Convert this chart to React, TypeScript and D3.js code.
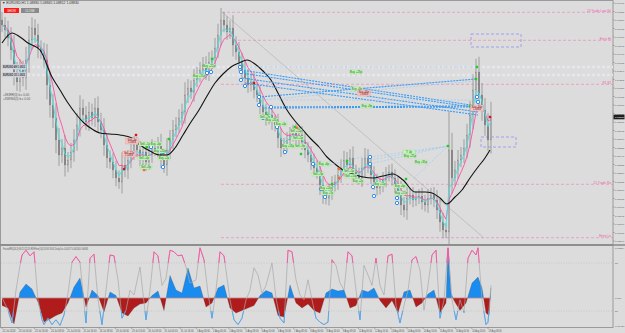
import React from "react";
import * as d3 from "d3";

// ---------- DATA ----------
const closes = [
  1.0975, 1.097, 1.0962, 1.095, 1.0928, 1.0918, 1.093, 1.0922, 1.094, 1.096,
  1.0972, 1.0965, 1.0952, 1.0948, 1.094, 1.0915, 1.0895, 1.0882, 1.086, 1.0845,
  1.0852, 1.0835, 1.084, 1.0848, 1.086, 1.0875, 1.0892, 1.0885, 1.0878, 1.0888,
  1.0882, 1.0892, 1.0878, 1.087, 1.0855, 1.0842, 1.0838, 1.083, 1.0822, 1.0818,
  1.0835, 1.083, 1.084, 1.0848, 1.0855, 1.085, 1.0842, 1.0848, 1.0838, 1.0845,
  1.0852, 1.085, 1.0855, 1.0842, 1.0835, 1.085, 1.086, 1.087, 1.0875, 1.0882,
  1.0888, 1.0905, 1.0912, 1.0908, 1.092, 1.0925, 1.093, 1.0935, 1.0928, 1.0938,
  1.0942, 1.0952, 1.0965, 1.098, 1.0975, 1.0968, 1.0972, 1.0955, 1.0948, 1.0938,
  1.093, 1.0922, 1.0915, 1.0918, 1.091, 1.0905, 1.0895, 1.0888, 1.0882, 1.0885,
  1.0878, 1.0875, 1.0862, 1.0852, 1.0855, 1.086, 1.0865, 1.0868, 1.0862, 1.0865,
  1.0858, 1.085, 1.0845, 1.0838, 1.0832, 1.0828, 1.0815, 1.0805, 1.0802, 1.0808,
  1.0815, 1.0818, 1.0825, 1.0832, 1.084, 1.0835, 1.0842, 1.0828, 1.0825, 1.0822,
  1.0832, 1.0842, 1.0835, 1.0825, 1.0818, 1.0812, 1.0815, 1.082, 1.0825, 1.0828,
  1.0822, 1.0815, 1.0808, 1.0795, 1.079, 1.0802, 1.0805, 1.08, 1.0802, 1.0804,
  1.0798, 1.0795, 1.0802, 1.0805, 1.08, 1.079, 1.0778, 1.077, 1.0768, 1.085,
  1.0822, 1.083, 1.084, 1.0845, 1.0852, 1.0865, 1.0885, 1.091, 1.0928, 1.0905,
  1.089, 1.0875, 1.086, 1.0883,
];

const slowMaT = [0, 10, 18, 26, 38, 50, 58, 66, 74, 82, 90, 98, 108, 118, 130, 138, 148, 158, 165, 173, 181, 189, 197, 205, 213, 221, 229, 237, 245, 253, 261, 269, 277, 285, 293, 301, 309, 317, 325, 333, 341, 351, 361, 371, 381, 391, 401, 413, 423, 430, 438, 445, 453, 460, 468, 476, 483, 488];
const slowMaP = [1.0957, 1.0967, 1.0963, 1.0957, 1.095, 1.0923, 1.091, 1.0897, 1.0886, 1.0877, 1.0871, 1.0867, 1.0866, 1.0865, 1.0862, 1.0855, 1.0849, 1.0845, 1.0845, 1.0852, 1.0865, 1.0878, 1.089, 1.0904, 1.0917, 1.0926, 1.0933, 1.0937, 1.094, 1.0936, 1.0929, 1.092, 1.0905, 1.089, 1.0879, 1.087, 1.0861, 1.0853, 1.0843, 1.0836, 1.083, 1.0826, 1.0823, 1.0822, 1.0824, 1.0826, 1.082, 1.0808, 1.0808, 1.0807, 1.0802, 1.0796, 1.0803, 1.081, 1.0822, 1.0833, 1.0842, 1.085];

const oscT = [0, 6, 10, 14, 18, 20, 24, 28, 32, 36, 40, 42, 46, 50, 54, 58, 62, 66, 70, 74, 78, 80, 84, 88, 92, 96, 100, 104, 108, 112, 116, 120, 124, 128, 132, 138, 144, 148, 152, 156, 160, 164, 168, 172, 176, 180, 184, 188, 194, 198, 202, 206, 210, 214, 218, 222, 228, 232, 236, 240, 244, 248, 252, 256, 260, 264, 270, 274, 278, 282, 286, 290, 294, 298, 302, 306, 310, 314, 318, 322, 326, 330, 334, 338, 342, 346, 350, 354, 358, 362, 366, 370, 374, 378, 382, 386, 390, 394, 398, 402, 406, 410, 414, 418, 422, 426, 430, 434, 438, 442, 446, 450, 454, 458, 462, 466, 470, 474, 476, 480, 484, 486, 489];
const oscV = [37, 21, 5, 46, 77, 90, 96, 89, 94, 34, 9, 3, 11, 3, 9, 2, 15, 42, 81, 88, 81, 55, 5, 86, 91, 34, 3, 46, 90, 89, 59, 11, 21, 46, 40, 75, 9, 46, 94, 89, 52, 61, 96, 94, 89, 90, 75, 55, 59, 99, 84, 42, 11, 46, 94, 89, 34, 9, 3, 11, 34, 46, 74, 65, 42, 52, 80, 36, 11, 5, 96, 94, 59, 40, 34, 59, 34, 11, 6, 3, 6, 84, 77, 55, 46, 94, 89, 46, 9, 77, 65, 52, 86, 52, 40, 89, 91, 27, 5, 27, 46, 84, 88, 71, 21, 52, 90, 96, 11, 34, 99, 34, 9, 34, 18, 86, 96, 90, 99, 34, 3, 6, 52];

const histT = [0, 6, 12, 18, 24, 30, 36, 42, 48, 54, 60, 66, 72, 78, 84, 90, 96, 102, 108, 114, 120, 126, 132, 138, 144, 150, 156, 162, 168, 174, 180, 186, 192, 198, 204, 210, 216, 222, 228, 234, 240, 246, 252, 258, 264, 270, 276, 282, 288, 294, 300, 306, 312, 318, 324, 330, 336, 342, 348, 354, 360, 366, 372, 378, 384, 390, 396, 402, 408, 414, 420, 426, 432, 438, 441, 444, 446, 449, 452, 458, 464, 470, 476, 480, 484, 487, 489];
const histV = [-0.15, -0.2, -0.52, 0.12, 0.28, 0.18, -0.08, -0.48, -0.42, -0.35, -0.3, -0.1, 0.22, 0.4, -0.18, 0.16, 0.05, -0.28, 0.12, 0.05, -0.3, -0.36, -0.2, -0.12, -0.1, 0.05, 0.14, -0.25, 0.45, 0.16, 0.1, 0.6, 0.2, 0.24, -0.18, -0.1, 0.2, 0.26, -0.2, -0.3, -0.25, -0.2, -0.15, 0.05, 0.15, 0.1, -0.35, -0.38, 0.26, -0.1, -0.2, -0.12, -0.25, -0.3, 0.1, 0.18, 0.14, 0.16, -0.2, -0.15, 0.16, 0.12, 0.2, -0.05, -0.2, -0.05, -0.3, 0.12, 0.16, -0.18, -0.1, 0.08, 0.16, -0.3, -0.2, -0.1, 1.0, 0.1, -0.05, -0.25, -0.1, 0.3, 0.42, 0.2, -0.3, -0.35, 0.2];

const priceTicks = [1.0997, 1.09885, 1.098, 1.09715, 1.0963, 1.09545, 1.0946, 1.09375, 1.0929, 1.09205, 1.0912, 1.09035, 1.0895, 1.08865, 1.0878, 1.08695, 1.0861, 1.08525, 1.0844, 1.08355, 1.0827, 1.08185, 1.081, 1.08015, 1.0793, 1.07845, 1.0776, 1.07675, 1.0759];
const lastPrice = 1.0883;

const timeLabels = ["22 Jul 2024", "23 Jul 00:00", "23 Jul 16:00", "24 Jul 08:00", "25 Jul 00:00", "25 Jul 16:00", "26 Jul 08:00", "29 Jul 00:00", "29 Jul 16:00", "30 Jul 08:00", "31 Jul 00:00", "31 Jul 16:00", "1 Aug 08:00", "2 Aug 00:00", "2 Aug 16:00", "5 Aug 08:00", "6 Aug 00:00", "6 Aug 16:00", "7 Aug 08:00", "8 Aug 00:00", "8 Aug 16:00", "9 Aug 08:00", "12 Aug 00:00", "12 Aug 16:00", "13 Aug 08:00", "14 Aug 00:00", "14 Aug 16:00", "15 Aug 08:00", "16 Aug 00:00", "16 Aug 16:00", "19 Aug 08:00"];
const timeLabelStep = 16.2;

const levelPrices = [1.09877, 1.09597, 1.09157, 1.08157, 1.07623];
const levelStartT = [220, 236, 219, 219, 219];
const levelNames = ["23 Trade Low (b)", "Entry Hi", "R1 82", "21 Trade Ro", "Entry Lo"];

const bandPrices = [1.0933, 1.0925];
const bandNames = ["EURUSD 4H 1.0933", "EURUSD 1D 1.0925"];

const diagLine = [220, 1.0988, 482, 1.0762];

const zoneBoxes = [
  [469, 1.0966, 519, 1.0953],
  [479, 1.0863, 514, 1.0853],
];

const connectors = [
  [238, 1.0933, 475, 1.0933, 0],
  [239, 1.093, 475, 1.0894, 1],
  [239, 1.0927, 476, 1.0892, 1],
  [240, 1.0922, 476, 1.0888, 1],
  [243, 1.0917, 476, 1.0885, 1],
  [257, 1.0903, 474, 1.0921, 1],
  [261, 1.09, 474, 1.0919, 0],
  [269, 1.0893, 468, 1.0894, 1],
  [263, 1.0892, 468, 1.0893, 1],
  [368, 1.0843, 446, 1.0854, 0],
  [368, 1.084, 446, 1.0854, 0],
  [368, 1.0836, 446, 1.0854, 0],
  [328, 1.0835, 368, 1.0845, 0],
  [412, 1.0822, 446, 1.0854, 0],
  [277, 1.09, 476, 1.09, 0],
];

const greenLabels: [number, number, string][] = [
  [197, 1.0924, "Buy +15p"], [207, 1.0934, "Buy +22p"], [354, 1.0928, "Buy +23p"],
  [355, 1.0911, "Buy +8p"], [365, 1.0894, "Buy +9p"], [263, 1.0883, "Sell +7p"],
  [270, 1.088, "Buy +31p"], [279, 1.0876, "Buy +4p"], [294, 1.0869, "Sell +12p"],
  [296, 1.0862, "Sell +5p"], [286, 1.0854, "Buy +18p"], [298, 1.0854, "Sell +9p"],
  [143, 1.0856, "Sell +1p"], [154, 1.0856, "Buy +6p"], [158, 1.0849, "Buy +20p"],
  [142, 1.0842, "Sell +4p"], [162, 1.0842, "Buy +2p"], [144, 1.0833, "Sell +8p"],
  [322, 1.0836, "Buy +6p"], [316, 1.0826, "Sell +3p"], [324, 1.0812, "Buy +14p"],
  [326, 1.0807, "Buy +7p"], [347, 1.0829, "Sell +5p"], [349, 1.0824, "Sell +10p"],
  [356, 1.0819, "Buy +2p"], [378, 1.0816, "Buy +11p"], [398, 1.0814, "Buy +6p"],
  [399, 1.0807, "Buy +17p"], [407, 1.0848, "T: 4p"], [408, 1.0844, "Buy +25p"],
  [419, 1.0838, "Buy +35p"],
];
const pinkLabels: [number, number, string][] = [
  [475, 1.0892, "Buy -30p"], [362, 1.0907, "Buy -30p"], [127, 1.0846, "Sell -12p"], [130, 1.0859, "Sell -3p"],
];
const blueMarks = [
  [238, 1.0933], [239, 1.0928], [239, 1.092], [243, 1.0914], [257, 1.0903], [257, 1.0895],
  [269, 1.0893], [261, 1.0882], [275, 1.0873], [283, 1.0848], [311, 1.0836], [319, 1.0811],
  [323, 1.0803], [368, 1.0843], [368, 1.0836], [371, 1.0813], [372, 1.0804], [395, 1.0802],
  [395, 1.0797], [161, 1.0848], [161, 1.0833], [149, 1.0853], [475, 1.0903], [476, 1.0898],
  [209, 1.0928], [205, 1.0927],
];
const greenDots = [
  [210, 1.0941], [475, 1.0933], [474, 1.0921], [468, 1.0894], [446, 1.0854], [167, 1.0861],
  [145, 1.0853], [345, 1.0839], [330, 1.0816], [299, 1.0846], [293, 1.0873], [265, 1.0885],
  [141, 1.0834], [404, 1.0821],
];
const redDots = [[134, 1.0865], [252, 1.0917], [488, 1.0883], [122, 1.0831]];
const orangeDots = [[337, 1.0831], [337, 1.0822], [295, 1.0872], [142, 1.083]];

const oscLevels = [80, 20];
const indLabels: [string, number][] = [["80", 80], ["20", 20]];

// ---------- HELPERS ----------
function ema(arr: number[], n: number) {
  const a = 2 / (n + 1);
  let e = arr[0];
  return arr.map((v) => (e = e + a * (v - e)));
}

const FONT = "'Liberation Sans', Arial, sans-serif";

export default function App() {
  const W = 625, H = 333;
  const xT = d3.scaleLinear().domain([0, 611]).range([2, 613]);
  const yP = d3.scaleLinear().domain([1.1, 1.0756]).range([0, 244]);
  const yO = d3.scaleLinear().domain([0, 100]).range([327, 247]);
  const yH = d3.scaleLinear().domain([0, 1]).range([298, 248]);

  const barT = closes.map((_, i) => i * 3);
  const candles = closes.map((c, i) => {
    const o = i === 0 ? c + 0.0005 : closes[i - 1];
    const pad = 0.0006 + 0.4 * Math.abs(c - o);
    return { t: barT[i], o, c, h: Math.max(o, c) + pad, l: Math.min(o, c) - pad * 0.9 };
  });

  const fast = ema(closes, 3);
  const slow = ema(closes, 6);
  const lineP = d3.line<number>().x((_, i) => xT(barT[i])).y((d) => yP(d));
  const slowMaLine = d3
    .line<number>()
    .x((_, i) => xT(slowMaT[i]))
    .y((d) => yP(d))
    .curve(d3.curveMonotoneX)(slowMaP);

  const oscPath = d3.line<number>().x((_, i) => xT(oscT[i])).y((d) => yO(d))(oscV) || "";
  const histArea =
    d3
      .area<number>()
      .x((_, i) => xT(histT[i]))
      .y0(yH(0))
      .y1((d) => yH(d))(histV) || "";
  const histLine = d3.line<number>().x((_, i) => xT(histT[i])).y((d) => yH(d))(histV) || "";

  const axFont = 2.5;

  return (
    <svg
      width={W}
      height={H}
      style={{ position: "fixed", left: 0, top: 0, background: "#dcdcdc" }}
      fontFamily={FONT}
    >
      <defs>
        <clipPath id="mainClip">
          <rect x={1} y={1} width={612} height={243} />
        </clipPath>
        <clipPath id="histUp">
          <rect x={1} y={246} width={612} height={yH(0) - 246} />
        </clipPath>
        <clipPath id="histDown">
          <rect x={1} y={yH(0)} width={612} height={328 - yH(0)} />
        </clipPath>
        <clipPath id="oscHi">
          <rect x={1} y={246} width={612} height={yO(80) - 246} />
        </clipPath>
        <clipPath id="oscLo">
          <rect x={1} y={yO(20)} width={612} height={328 - yO(20)} />
        </clipPath>
      </defs>
      <rect x={0} y={0} width={W} height={H} fill="#dcdcdc" />

      {/* frames */}
      <rect x={0.5} y={0.5} width={612.5} height={244} fill="none" stroke="#9a9a9a" strokeWidth={1} />
      <rect x={0.5} y={245.5} width={612.5} height={82} fill="none" stroke="#9a9a9a" strokeWidth={1} />
      <line x1={0} x2={625} y1={245} y2={245} stroke="#8a8a8a" strokeWidth={1.5} />

      {/* main panel */}
      <g clipPath="url(#mainClip)">
        {bandPrices.map((p, i) => (
          <line key={"b" + i} x1={xT(0)} x2={613} y1={yP(p)} y2={yP(p)} stroke="#e6e6ee" strokeWidth={2.5} strokeDasharray="3,2" />
        ))}
        {levelPrices.map((p, i) => (
          <g key={"l" + i}>
            <line x1={xT(levelStartT[i])} x2={613} y1={yP(p)} y2={yP(p)} stroke="#f478b8" strokeWidth={0.6} strokeDasharray="3,2" />
            <text x={611} y={yP(p) - 0.8} fontSize={3.2} fill="#f060a8" textAnchor="end">
              {levelNames[i]}
            </text>
          </g>
        ))}
        <line x1={xT(diagLine[0])} y1={yP(diagLine[1])} x2={xT(diagLine[2])} y2={yP(diagLine[3])} stroke="#a4a4a4" strokeWidth={0.5} />
        {zoneBoxes.map((b, i) => (
          <rect key={"z" + i} x={xT(b[0])} y={yP(b[1])} width={xT(b[2]) - xT(b[0])} height={yP(b[3]) - yP(b[1])} fill="none" stroke="#9a9af0" strokeWidth={0.9} strokeDasharray="3,2" />
        ))}
        {candles.map((d, i) => (
          <g key={"c" + i}>
            <line x1={xT(d.t)} x2={xT(d.t)} y1={yP(d.h)} y2={yP(d.l)} stroke="#858585" strokeWidth={0.7} />
            <rect
              x={xT(d.t) - 0.7}
              y={yP(Math.max(d.o, d.c))}
              width={1.4}
              height={Math.max(0.6, Math.abs(yP(d.o) - yP(d.c)))}
              fill={d.c >= d.o ? "#bdbdbd" : "#727272"}
              stroke="#858585"
              strokeWidth={0.3}
            />
          </g>
        ))}
        <path d={lineP(slow) || ""} fill="none" stroke="#ff4fa3" strokeWidth={0.9} />
        <path d={lineP(fast) || ""} fill="none" stroke="#3fe3e3" strokeWidth={0.9} />
        <path d={slowMaLine || ""} fill="none" stroke="#111" strokeWidth={1.1} />
        {connectors.map((c, i) => (
          <line key={"k" + i} x1={xT(c[0])} y1={yP(c[1])} x2={xT(c[2])} y2={yP(c[3])} stroke={c[4] ? "#3a9cf5" : "#84c4f5"} strokeWidth={c[4] ? 1.1 : 0.5} strokeDasharray={c[4] ? "2,1" : "2,1.5"} />
        ))}
        {blueMarks.map((m, i) => (
          <circle key={"bm" + i} cx={xT(m[0])} cy={yP(m[1])} r={1.7} fill="#ffffff" stroke="#2a8ef0" strokeWidth={1} />
        ))}
        {greenDots.map((m, i) => (
          <rect key={"gd" + i} x={xT(m[0]) - 1.2} y={yP(m[1]) - 1.2} width={2.4} height={2.4} fill="#22cc22" />
        ))}
        {redDots.map((m, i) => (
          <rect key={"rd" + i} x={xT(m[0]) - 1.2} y={yP(m[1]) - 1.2} width={2.4} height={2.4} fill="#d01818" />
        ))}
        {orangeDots.map((m, i) => (
          <circle key={"od" + i} cx={xT(m[0])} cy={yP(m[1])} r={1.4} fill="#f07030" />
        ))}
        {greenLabels.map((g, i) => (
          <g key={"gl" + i}>
            <rect x={xT(g[0]) - 6} y={yP(g[1]) - 2} width={12} height={4} fill="#c2f7b8" stroke="#9ad890" strokeWidth={0.3} />
            <text x={xT(g[0])} y={yP(g[1]) + 1.1} fontSize={2.8} fill="#2a5a2a" textAnchor="middle">
              {g[2]}
            </text>
          </g>
        ))}
        {pinkLabels.map((g, i) => (
          <g key={"pl" + i}>
            <rect x={xT(g[0]) - 6.5} y={yP(g[1]) - 3} width={13} height={6} fill="#f6c0c0" stroke="#e09a9a" strokeWidth={0.3} />
            <text x={xT(g[0])} y={yP(g[1]) - 0.4} fontSize={2.6} fill="#6a2a2a" textAnchor="middle">
              {g[2]}
            </text>
            <text x={xT(g[0])} y={yP(g[1]) + 2.2} fontSize={2.6} fill="#6a2a2a" textAnchor="middle">
              1.0884
            </text>
          </g>
        ))}
        {bandPrices.map((p, i) => (
          <g key={"bl" + i}>
            <rect x={2} y={yP(p) - 2.8} width={24} height={5.2} fill="#cfd2dc" />
            <text x={3} y={yP(p) + 1.2} fontSize={3.2} fill="#333" fontWeight="bold" textLength={22} lengthAdjust="spacingAndGlyphs">
              {bandNames[i]}
            </text>
          </g>
        ))}
        <text x={3} y={96} fontSize={3} fill="#555">+SKIRR(3) b.c 0.00</text>
        <text x={3} y={100} fontSize={3} fill="#555">+SWING(5) b.c 0.00</text>
      </g>

      {/* header */}
      <text x={2} y={4} fontSize={3.4} fill="#333">▼ EURUSD,H1  1.08830 1.08845 1.08812 1.08830</text>
      <rect x={4} y={8} width={15} height={5} fill="#ff1a1a" />
      <text x={11.5} y={11.6} fontSize={2.8} fill="#fff" textAnchor="middle">SHOW</text>
      <rect x={21} y={8} width={18} height={5} fill="#8a8a8a" />
      <text x={30} y={11.6} fontSize={2.8} fill="#eee" textAnchor="middle">CLOSE</text>

      {/* price axis */}
      {priceTicks.map((p, i) => (
        <g key={"pt" + i}>
          <line x1={613} x2={614.5} y1={yP(p)} y2={yP(p)} stroke="#777" strokeWidth={0.5} />
          <text x={615} y={yP(p) + 1} fontSize={axFont} fill="#555">
            {p.toFixed(5)}
          </text>
        </g>
      ))}
      <rect x={613.5} y={yP(lastPrice) - 2.3} width={11} height={4.6} fill="#1e1e1e" />
      <text x={615} y={yP(lastPrice) + 1} fontSize={axFont} fill="#fff">
        {lastPrice.toFixed(5)}
      </text>

      {/* indicator panel */}
      <text x={3} y={249.5} fontSize={2.8} fill="#555" textLength={85} lengthAdjust="spacingAndGlyphs">
        FractalRSI(14,3) 68.13 22.05 RSIFilter(14) 53.09 26.61 DailyOsc 0.00117 0.00204 0.00095
      </text>
      {oscLevels.map((v, i) => (
        <line key={"ol" + i} x1={1} x2={613} y1={yO(v)} y2={yO(v)} stroke="#b4b4b4" strokeWidth={0.5} strokeDasharray="1,1.5" />
      ))}
      <path d={histArea} fill="#1a8cf0" clipPath="url(#histUp)" />
      <path d={histArea} fill="#b01c1c" clipPath="url(#histDown)" />
      <path d={histLine} fill="none" stroke="#404040" strokeWidth={0.4} opacity={0.6} />
      <line x1={xT(0)} x2={xT(489)} y1={yH(0)} y2={yH(0)} stroke="#c08080" strokeWidth={0.8} />
      <path d={oscPath} fill="none" stroke="#a8a8a8" strokeWidth={0.7} />
      <path d={oscPath} fill="none" stroke="#ff4fa3" strokeWidth={0.9} clipPath="url(#oscHi)" />
      <path d={oscPath} fill="none" stroke="#4aa6f5" strokeWidth={0.9} clipPath="url(#oscLo)" />
      {indLabels.map((l, i) => (
        <text key={"il" + i} x={615} y={yO(l[1]) + 1} fontSize={axFont} fill="#555">
          {l[0]}
        </text>
      ))}
      <text x={615} y={249} fontSize={axFont} fill="#555">0.00254</text>
      <text x={615} y={yH(0) + 1} fontSize={axFont} fill="#555">0.000</text>
      <text x={614.5} y={327} fontSize={axFont} fill="#555">-0.00456</text>

      {/* time axis */}
      {timeLabels.map((s, i) => (
        <g key={"tl" + i}>
          <line x1={xT(i * timeLabelStep)} x2={xT(i * timeLabelStep)} y1={327.5} y2={329} stroke="#777" strokeWidth={0.5} />
          <text x={xT(i * timeLabelStep) + 0.5} y={331.5} fontSize={3} fill="#555" textLength={13} lengthAdjust="spacingAndGlyphs">
            {s}
          </text>
        </g>
      ))}
    </svg>
  );
}
